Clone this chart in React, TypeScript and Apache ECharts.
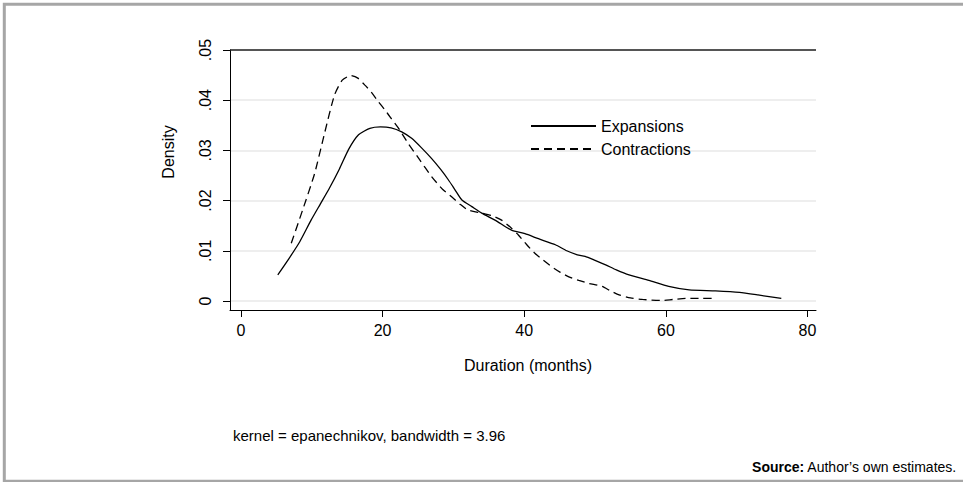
import React, { useEffect, useRef } from "react";
import * as echarts from "echarts";

const FONT = "'Liberation Sans', Arial, sans-serif";

const expansionsX = [5.2, 6.8, 8.3, 9.9, 11.2, 12.5, 13.9, 15.2, 16.6, 18.2, 19.7, 21.2, 22.7, 24.1, 25.5, 26.9, 28.2, 29.3, 30.2, 31.2, 32.6, 34.0, 36.0, 38.2, 40.1, 42.0, 44.4, 46.0, 47.5, 48.6, 50.0, 51.5, 53.0, 54.8, 57.6, 60.4, 63.3, 67.0, 70.4, 73.0, 76.3];
const expansionsY = [0.0052, 0.0085, 0.0118, 0.0161, 0.0193, 0.0225, 0.0263, 0.0302, 0.0331, 0.0344, 0.0347, 0.0345, 0.0337, 0.0324, 0.0305, 0.0284, 0.0262, 0.0241, 0.0222, 0.0201, 0.0188, 0.0175, 0.016, 0.0141, 0.0134, 0.0124, 0.0112, 0.01, 0.0092, 0.0089, 0.0081, 0.0072, 0.0062, 0.0052, 0.0041, 0.0029, 0.0022, 0.002, 0.0017, 0.0012, 0.0005];

const contractionsX = [7.1, 8.7, 10.4, 11.8, 13.2, 14.3, 15.5, 16.5, 17.5, 18.4, 19.4, 20.3, 21.2, 22.4, 23.6, 25.2, 26.9, 28.5, 29.7, 31.0, 32.1, 34.0, 35.4, 36.8, 38.2, 39.2, 40.3, 41.5, 42.7, 43.9, 45.1, 46.3, 47.7, 49.1, 51.0, 52.2, 53.4, 55.0, 56.7, 59.5, 61.0, 62.8, 65.0, 67.0];
const contractionsY = [0.0115, 0.0181, 0.0254, 0.0334, 0.041, 0.044, 0.0449, 0.0444, 0.043, 0.0416, 0.0397, 0.0381, 0.0364, 0.0341, 0.0314, 0.0282, 0.0248, 0.0222, 0.0208, 0.0192, 0.0181, 0.0175, 0.017, 0.0161, 0.0145, 0.0131, 0.0113, 0.0095, 0.0081, 0.0068, 0.0057, 0.0048, 0.0041, 0.0035, 0.0029, 0.002, 0.0012, 0.0006, 0.0003, 0.0001, 0.0003, 0.0005, 0.0005, 0.0005];

const xTicks = [0, 20, 40, 60, 80];
const yTicks = [0, 0.01, 0.02, 0.03, 0.04, 0.05];
const yTickLabels = ["0", ".01", ".02", ".03", ".04", ".05"];

const seriesNames = ["Expansions", "Contractions"];
const xTitle = "Duration (months)";
const yTitle = "Density";
const noteText = "kernel = epanechnikov, bandwidth = 3.96";
const sourceBold = "Source:";
const sourceText = " Author\u2019s own estimates.";

export default function App() {
  const ref = useRef<HTMLDivElement>(null);
  useEffect(() => {
    if (!ref.current) return;
    const chart = echarts.init(ref.current, null, { renderer: "svg" });
    const pair = (xs: number[], ys: number[]) => xs.map((x, i) => [x, ys[i]]);
    chart.setOption({
      animation: false,
      backgroundColor: "#ffffff",
      grid: { left: 230, right: 147, top: 50, bottom: 172, containLabel: false },
      xAxis: {
        type: "value",
        min: -1.55,
        max: 81.2,
        axisLine: { show: true, onZero: false, lineStyle: { color: "#000", width: 1 } },
        axisTick: { show: true, length: 7, customValues: xTicks, lineStyle: { color: "#000", width: 1 } },
        axisLabel: { customValues: xTicks, margin: 12, color: "#000", fontSize: 16, fontFamily: FONT },
        splitLine: { show: false },
      },
      yAxis: {
        type: "value",
        min: -0.0018,
        max: 0.05,
        axisLine: { show: true, onZero: false, lineStyle: { color: "#000", width: 1 } },
        axisTick: { show: true, length: 7, customValues: yTicks, lineStyle: { color: "#000", width: 1 } },
        axisLabel: {
          customValues: yTicks,
          rotate: 90,
          margin: 17,
          color: "#000",
          fontSize: 16,
          fontFamily: FONT,
          formatter: (v: number) => {
            const i = yTicks.findIndex((t) => Math.abs(t - v) < 1e-9);
            return i >= 0 ? yTickLabels[i] : "";
          },
        },
        splitLine: { show: true, lineStyle: { color: "#e8e8e8", width: 1.5 } },
      },
      legend: {
        orient: "vertical",
        left: 525,
        top: 113,
        itemWidth: 65,
        itemHeight: 14,
        itemGap: 7,
        data: seriesNames,
        itemStyle: { opacity: 0 },
        textStyle: { fontSize: 16, fontFamily: FONT, color: "#000", lineHeight: 14 },
      },
      series: [
        {
          name: seriesNames[0],
          type: "line",
          data: pair(expansionsX, expansionsY),
          symbol: "none",
          showSymbol: false,
          smooth: 0.2,
          lineStyle: { color: "#000", width: 1.3, type: "solid" },
          itemStyle: { color: "#000" },
          markLine: {
            silent: true,
            symbol: "none",
            label: { show: false },
            lineStyle: { color: "#222", width: 1.5, type: "solid" },
            data: [{ yAxis: 0.05 }],
          },
        },
        {
          name: seriesNames[1],
          type: "line",
          data: pair(contractionsX, contractionsY),
          symbol: "none",
          showSymbol: false,
          smooth: 0.2,
          lineStyle: { color: "#000", width: 1.3, type: [8, 5] },
          itemStyle: { color: "#000" },
        },
      ],
      graphic: [
        {
          type: "rect",
          shape: { x: 4.3, y: 4.3, width: 980, height: 477 },
          style: { fill: "none", stroke: "#a6a6a6", lineWidth: 3 },
          silent: true,
        },
        {
          type: "text",
          x: 168,
          y: 152,
          rotation: Math.PI / 2,
          style: { text: yTitle, fontSize: 16, fontFamily: FONT, fill: "#000", align: "center", verticalAlign: "middle" },
        },
        {
          type: "text",
          x: 528,
          y: 365,
          style: { text: xTitle, fontSize: 16, fontFamily: FONT, fill: "#000", align: "center", verticalAlign: "middle" },
        },
        {
          type: "text",
          x: 233,
          y: 435,
          style: { text: noteText, fontSize: 15, fontFamily: FONT, fill: "#000", align: "left", verticalAlign: "middle" },
        },
        {
          type: "text",
          right: 6,
          y: 460,
          style: {
            text: "{b|" + sourceBold + "}{n|" + sourceText + "}",
            fontSize: 14,
            fontFamily: FONT,
            fill: "#000",
            rich: {
              b: { fontWeight: "bold", fontSize: 14, fontFamily: FONT, fill: "#000" },
              n: { fontSize: 14, fontFamily: FONT, fill: "#000" },
            },
          },
        },
      ],
    });
    return () => chart.dispose();
  }, []);
  return <div ref={ref} style={{ position: "fixed", left: 0, top: 0, width: 963, height: 482 }} />;
}
